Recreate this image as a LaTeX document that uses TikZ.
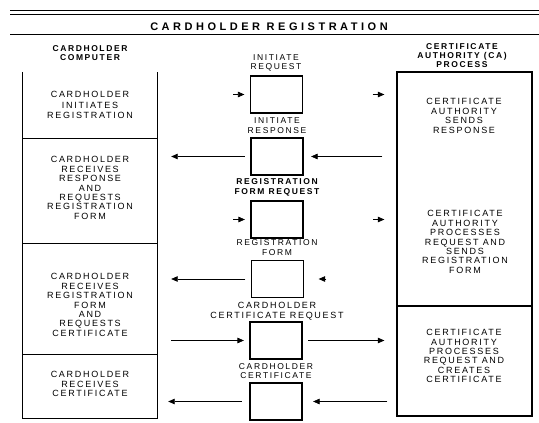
\documentclass[tikz,border=0pt]{standalone}
\usepackage{fontspec}
\setmainfont{Liberation Sans}
\newfontfamily\spaced{Liberation Sans}[LetterSpace=19]
\newfontfamily\titlefont{Liberation Sans}[LetterSpace=32]
\usetikzlibrary{arrows.meta}
\tikzset{
  body/.style={font=\spaced\fontsize{9}{9.4}\selectfont, align=center, inner sep=0pt},
  colhead/.style={font=\spaced\bfseries\fontsize{8.5}{9}\selectfont, align=center, inner sep=0pt},
  msglabel/.style={font=\spaced\fontsize{8.5}{9.5}\selectfont, align=center, inner sep=0pt},
  msgbox/.style={draw, line width=1.2pt, minimum width=52pt, minimum height=37pt, inner sep=0pt},
  section/.style={minimum width=134pt, inner sep=0pt},
  casection/.style={draw, line width=1.3pt, minimum width=135pt, inner sep=0pt},
  frame/.style={line width=1.3pt},
  arr/.style={-{Triangle[length=6.5pt,width=5.5pt]}, line width=0.7pt},
  rule/.style={line width=1pt}
}
\begin{document}
\begin{tikzpicture}[x=1pt,y=-1pt]
\useasboundingbox (0,0) rectangle (539,423);

% title and rules
\draw[rule] (10,10) -- (539,10);
\draw[rule] (10,14) -- (539,14);
\draw[rule] (10,34) -- (539,34);
\node[font=\titlefont\bfseries\fontsize{11}{12}\selectfont, inner sep=0pt] (title) at (269,27) {CARDHOLDER REGISTRATION};

% column headings
\node[colhead] (hcard) at (90,53) {CARDHOLDER\\COMPUTER};
\node[colhead] (hca) at (462,56) {CERTIFICATE\\AUTHORITY (CA)\\PROCESS};

% cardholder column sections
\node[section, minimum height=66pt]  (c1) at (90,105) {};
\node[section, minimum height=105pt] (c2) at (90,190.5) {};
\node[section, minimum height=111pt] (c3) at (90,298.5) {};
\node[section, minimum height=64pt]  (c4) at (90,386) {};
\draw[frame] (c1.north west) -- (c4.south west) -- (c4.south east) -- (c1.north east);
\draw[frame] (c1.south west) -- (c1.south east);
\draw[frame] (c2.south west) -- (c2.south east);
\draw[frame] (c3.south west) -- (c3.south east);

\node[body, font=\spaced\fontsize{9}{10.5}\selectfont] (t1) at (90,105) {CARDHOLDER\\INITIATES\\REGISTRATION};
\node[body] (t2) at (90,188) {CARDHOLDER\\RECEIVES\\RESPONSE\\AND\\REQUESTS\\REGISTRATION\\FORM};
\node[body] (t3) at (90,305) {CARDHOLDER\\RECEIVES\\REGISTRATION\\FORM\\AND\\REQUESTS\\CERTIFICATE};
\node[body] (t4) at (90,384) {CARDHOLDER\\RECEIVES\\CERTIFICATE};

% certificate authority column
\node[casection, minimum height=234pt] (ca1) at (464.5,189) {};
\node[casection, minimum height=110pt] (ca2) at (464.5,361) {};
\node[body] (s1) at (464,116) {CERTIFICATE\\AUTHORITY\\SENDS\\RESPONSE};
\node[body] (s2) at (465,242) {CERTIFICATE\\AUTHORITY\\PROCESSES\\REQUEST AND\\SENDS\\REGISTRATION\\FORM};
\node[body] (s3) at (464,356) {CERTIFICATE\\AUTHORITY\\PROCESSES\\REQUEST AND\\CREATES\\CERTIFICATE};

% message boxes
\node[msgbox] (b1) at (276.5,94.5) {};
\node[msgbox] (b2) at (277,156.5) {};
\node[msgbox] (b3) at (277,219.5) {};
\node[msgbox] (b4) at (277.5,279) {};
\node[msgbox] (b5) at (276,340.5) {};
\node[msgbox] (b6) at (276,401.5) {};

\node[msglabel] (l1) at (276,63) {INITIATE\\REQUEST};
\node[msglabel] (l2) at (277,125.5) {INITIATE\\RESPONSE};
\node[msglabel, font=\spaced\bfseries\fontsize{8.5}{9.5}\selectfont] (l3) at (277,187.5) {REGISTRATION\\FORM REQUEST};
\node[msglabel] (l4) at (277,247.5) {REGISTRATION\\FORM};
\node[msglabel, font=\spaced\fontsize{9}{10}\selectfont] (l5) at (277,311) {CARDHOLDER\\CERTIFICATE REQUEST};
\node[msglabel] (l6) at (276,371) {CARDHOLDER\\CERTIFICATE};

% message flow
\draw[arr, shorten <=76pt, shorten >=5.5pt] (b1.west -| c1.east) -- (b1.west);
\draw[arr, shorten <=69.5pt, shorten >=12pt] (b1.east) -- (b1.east -| ca1.west);

\draw[arr, shorten <=5.5pt, shorten >=14pt] (b2.west) -- (b2.west -| c2.east);
\draw[arr, shorten <=14pt, shorten >=7.5pt] (b2.east -| ca1.west) -- (b2.east);

\draw[arr, shorten <=76pt, shorten >=5.5pt] (b3.west -| c2.east) -- (b3.west);
\draw[arr, shorten <=69.5pt, shorten >=12pt] (b3.east) -- (b3.east -| ca1.west);

\draw[arr, shorten <=5.5pt, shorten >=14pt] (b4.west) -- (b4.west -| c3.east);
\draw[arr, shorten <=70pt, shorten >=14.5pt] (b4.east -| ca1.west) -- (b4.east);

\draw[arr, shorten <=14pt, shorten >=5.5pt] (b5.west -| c3.east) -- (b5.west);
\draw[arr, shorten <=5.5pt, shorten >=12pt] (b5.east) -- (b5.east -| ca2.west);

\draw[arr, shorten <=7.5pt, shorten >=11pt] (b6.west) -- (b6.west -| c4.east);
\draw[arr, shorten <=9pt, shorten >=10.5pt] (b6.east -| ca2.west) -- (b6.east);
\end{tikzpicture}
\end{document}
